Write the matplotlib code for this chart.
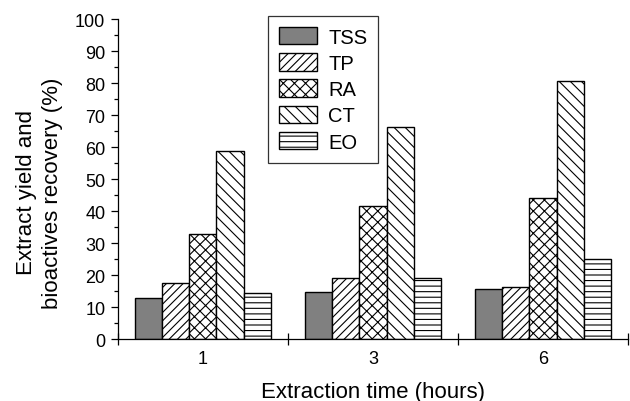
import numpy as np
import matplotlib
matplotlib.use("Agg")
import matplotlib.pyplot as plt
from matplotlib.ticker import MultipleLocator

plt.rcParams['font.family'] = ['Liberation Sans', 'DejaVu Sans']
plt.rcParams['hatch.linewidth'] = 0.8

# extraction times (hours) and recovered fractions (%)
times = ['1', '3', '6']
series = ['TSS', 'TP', 'RA', 'CT', 'EO']
tss = [12.7, 14.7, 15.7]
tp = [17.5, 19.0, 16.2]
ra = [32.7, 41.6, 44.0]
ct = [58.9, 66.2, 80.5]
eo = [14.4, 19.0, 25.0]
values = [tss, tp, ra, ct, eo]

fills = ['#808080', 'white', 'white', 'white', 'white']
hatches = [None, '////', 'xxx', '\\\\\\', '---']

fig = plt.figure(figsize=(6.3, 4.02), dpi=100)
ax = fig.add_axes([0.187, 0.154, 0.81, 0.796])

x = np.arange(len(times)) + 0.5
width = 0.16
for i, (name, vals) in enumerate(zip(series, values)):
    offset = (i - 2) * width
    ax.bar(x + offset, vals, width, color=fills[i], hatch=hatches[i],
           edgecolor='black', linewidth=1.0, label=name)

ax.set_xlim(0, 3)
ax.set_ylim(0, 100)

# group separators as major ticks, hour labels on minor ticks
ax.set_xticks([0, 1, 2, 3])
ax.set_xticklabels([])
ax.set_xticks(x, minor=True)
ax.set_xticklabels(times, minor=True, fontsize=13)
ax.tick_params(axis='x', which='major', direction='inout', length=8, width=0.9)
ax.tick_params(axis='x', which='minor', length=0, pad=8)

ax.yaxis.set_major_locator(MultipleLocator(10))
ax.yaxis.set_minor_locator(MultipleLocator(5))
ax.tick_params(axis='y', which='major', direction='out', length=5, width=0.9,
               labelsize=13, pad=4)
ax.tick_params(axis='y', which='minor', direction='out', length=3, width=0.9)

for side in ['top', 'right']:
    ax.spines[side].set_visible(False)
for side in ['left', 'bottom']:
    ax.spines[side].set_linewidth(0.9)

ax.set_xlabel('Extraction time (hours)', fontsize=16, labelpad=10)
ax.set_ylabel('Extract yield and\nbioactives recovery (%)', fontsize=16,
              linespacing=1.3)
ax.yaxis.set_label_coords(-0.108, 0.46)

leg = ax.legend(loc='upper left', bbox_to_anchor=(0.294, 1.01), fontsize=14.5,
                frameon=True, fancybox=False, edgecolor='black',
                handlelength=1.9, handleheight=0.95, labelspacing=0.33,
                borderpad=0.55, handletextpad=0.55, borderaxespad=0)
leg.get_frame().set_linewidth(0.9)

fig.savefig('out.png', dpi=100)
